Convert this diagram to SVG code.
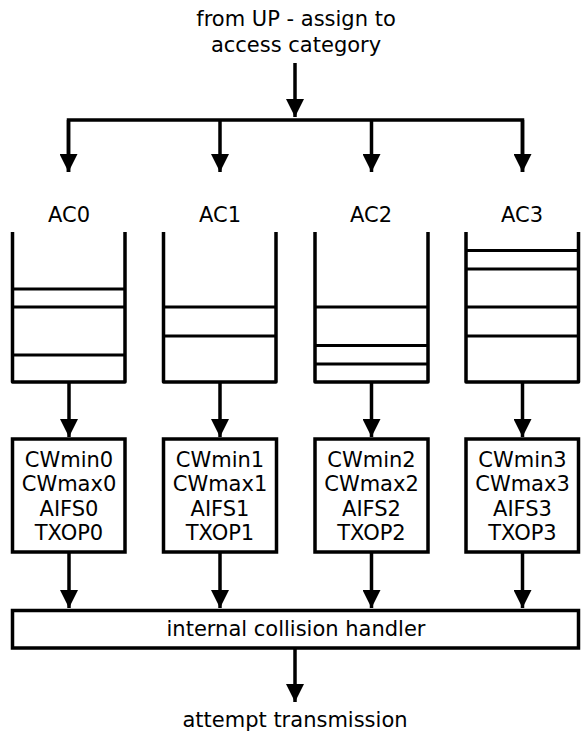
<svg xmlns="http://www.w3.org/2000/svg" width="582" height="734" viewBox="0 0 582 734">
  <style>
    text { font-family: "DejaVu Sans", "Liberation Sans", sans-serif; font-size: 21px; fill: #000; text-anchor: middle; }
    .wire { fill: none; stroke: #000; stroke-width: 3.5; stroke-linejoin: miter; }
    .box { fill: #fff; stroke: #000; stroke-width: 3.5; }
    .slot { fill: none; stroke: #000; stroke-width: 3; }
    .queue { fill: none; stroke: #000; stroke-width: 3.5; stroke-linejoin: round; }
  </style>
  <defs>
    <marker id="head" markerUnits="userSpaceOnUse" markerWidth="18" markerHeight="18" viewBox="0 0 18 18" refX="18" refY="9" orient="auto">
      <path d="M0,0 L18,9 L0,18 Z" fill="#000"/>
    </marker>
  </defs>

  <!-- incoming traffic label -->
  <g id="source">
    <text x="296" y="26">from UP - assign to</text>
    <text x="296" y="52">access category</text>
  </g>

  <!-- access category queues -->
  <g id="ac0">
    <text x="69" y="222">AC0</text>
    <path class="queue" d="M12.5,232 V382 H125 V232"/>
    <path class="slot" d="M12.5,289 H125 M12.5,307 H125 M12.5,355 H125"/>
  </g>
  <g id="ac1">
    <text x="220" y="222">AC1</text>
    <path class="queue" d="M163.5,232 V382 H276 V232"/>
    <path class="slot" d="M163.5,307 H276 M163.5,336 H276"/>
  </g>
  <g id="ac2">
    <text x="371" y="222">AC2</text>
    <path class="queue" d="M315,232 V382 H428 V232"/>
    <path class="slot" d="M315,307 H428 M315,345.5 H428 M315,364 H428"/>
  </g>
  <g id="ac3">
    <text x="522" y="222">AC3</text>
    <path class="queue" d="M466,232 V382 H578.5 V232"/>
    <path class="slot" d="M466,250.5 H578.5 M466,269 H578.5 M466,307 H578.5 M466,336 H578.5"/>
  </g>

  <!-- EDCA parameter sets -->
  <g id="params0">
    <rect class="box" x="12.5" y="439" width="112.5" height="113"/>
    <text x="69" y="467">CWmin0</text>
    <text x="69" y="491">CWmax0</text>
    <text x="69" y="516">AIFS0</text>
    <text x="69" y="540">TXOP0</text>
  </g>
  <g id="params1">
    <rect class="box" x="163.5" y="439" width="113" height="113"/>
    <text x="220" y="467">CWmin1</text>
    <text x="220" y="491">CWmax1</text>
    <text x="220" y="516">AIFS1</text>
    <text x="220" y="540">TXOP1</text>
  </g>
  <g id="params2">
    <rect class="box" x="315" y="439" width="113" height="113"/>
    <text x="371.5" y="467">CWmin2</text>
    <text x="371.5" y="491">CWmax2</text>
    <text x="371.5" y="516">AIFS2</text>
    <text x="371.5" y="540">TXOP2</text>
  </g>
  <g id="params3">
    <rect class="box" x="466" y="439" width="112.5" height="113"/>
    <text x="522.5" y="467">CWmin3</text>
    <text x="522.5" y="491">CWmax3</text>
    <text x="522.5" y="516">AIFS3</text>
    <text x="522.5" y="540">TXOP3</text>
  </g>

  <!-- collision handler -->
  <g id="handler">
    <rect class="box" x="12.5" y="610.5" width="566" height="37.5"/>
    <text x="296" y="636">internal collision handler</text>
  </g>

  <g id="sink">
    <text x="295" y="727">attempt transmission</text>
  </g>

  <!-- connectors -->
  <g id="connectors">
    <path class="wire" d="M68.5,172 V120 H522.5 V172"/>
    <line class="wire" x1="295" y1="63" x2="295" y2="117" marker-end="url(#head)"/>
    <line class="wire" x1="68.5" y1="120" x2="68.5" y2="172" marker-end="url(#head)"/>
    <line class="wire" x1="220" y1="120" x2="220" y2="172" marker-end="url(#head)"/>
    <line class="wire" x1="371.5" y1="120" x2="371.5" y2="172" marker-end="url(#head)"/>
    <line class="wire" x1="522.5" y1="120" x2="522.5" y2="172" marker-end="url(#head)"/>

    <line class="wire" x1="69" y1="382" x2="69" y2="437" marker-end="url(#head)"/>
    <line class="wire" x1="220" y1="382" x2="220" y2="437" marker-end="url(#head)"/>
    <line class="wire" x1="371.5" y1="382" x2="371.5" y2="437" marker-end="url(#head)"/>
    <line class="wire" x1="522.5" y1="382" x2="522.5" y2="437" marker-end="url(#head)"/>

    <line class="wire" x1="69" y1="552" x2="69" y2="608" marker-end="url(#head)"/>
    <line class="wire" x1="220" y1="552" x2="220" y2="608" marker-end="url(#head)"/>
    <line class="wire" x1="371.5" y1="552" x2="371.5" y2="608" marker-end="url(#head)"/>
    <line class="wire" x1="522.5" y1="552" x2="522.5" y2="608" marker-end="url(#head)"/>

    <line class="wire" x1="295" y1="648" x2="295" y2="702" marker-end="url(#head)"/>
  </g>
</svg>
